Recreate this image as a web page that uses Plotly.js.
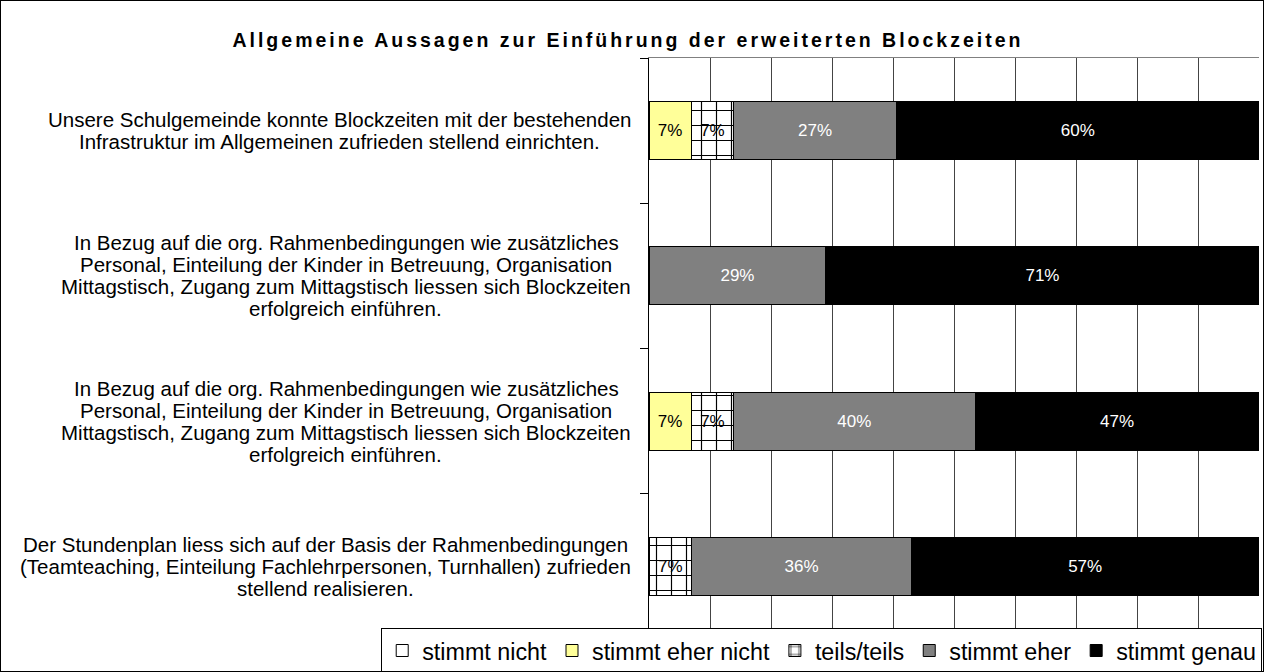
<!DOCTYPE html>
<html>
<head>
<meta charset="utf-8">
<script src="https://cdn.plot.ly/plotly-3.0.1.min.js"></script>
<style>
  html, body { margin: 0; padding: 0; background: #fff; }
  #chart { width: 1264px; height: 672px; box-sizing: border-box; border: 1px solid #000; }
  .gtitle { letter-spacing: 3px; }
</style>
</head>
<body>
<div id="chart"></div>
<script>
// ---- data ----
const statements = [
  "Unsere Schulgemeinde konnte Blockzeiten mit der bestehenden\nInfrastruktur im Allgemeinen zufrieden stellend einrichten.",
  "In Bezug auf die org. Rahmenbedingungen wie zusätzliches\nPersonal, Einteilung der Kinder in Betreuung, Organisation\nMittagstisch, Zugang zum Mittagstisch liessen sich Blockzeiten\nerfolgreich einführen.",
  "In Bezug auf die org. Rahmenbedingungen wie zusätzliches\nPersonal, Einteilung der Kinder in Betreuung, Organisation\nMittagstisch, Zugang zum Mittagstisch liessen sich Blockzeiten\nerfolgreich einführen.",
  "Der Stundenplan liess sich auf der Basis der Rahmenbedingungen\n(Teamteaching, Einteilung Fachlehrpersonen, Turnhallen) zufrieden\nstellend realisieren."
];
const seriesNames = ["stimmt nicht", "stimmt eher nicht", "teils/teils", "stimmt eher", "stimmt genau"];
const stimmtNicht     = [0, 0, 0, 0];
const stimmtEherNicht = [7, 0, 7, 0];
const teilsTeils      = [7, 0, 7, 7];
const stimmtEher      = [27, 29, 40, 36];
const stimmtGenau     = [60, 71, 47, 57];
const chartTitle = "Allgemeine Aussagen zur Einführung der erweiterten Blockzeiten";

// ---- styles ----
const seriesValues = [stimmtNicht, stimmtEherNicht, teilsTeils, stimmtEher, stimmtGenau];
const fills = ["#FFFFFF", "#FFFF99", "#FFFFFF", "#808080", "#000000"];
const textColors = ["#000", "#000", "#000", "#FFF", "#FFF"];
const FONT = "Liberation Sans, Arial, sans-serif";
const LABEL_SIZE = 20.5;
const LINE_H = 22;
const yIdx = statements.map((_, i) => i);

const traces = seriesValues.map((vals, k) => {
  const t = {
    type: "bar",
    orientation: "h",
    name: seriesNames[k],
    y: yIdx,
    x: vals,
    text: vals.map(v => v > 0 ? v + "%" : ""),
    textposition: "inside",
    insidetextanchor: "middle",
    textangle: 0,
    textfont: { family: FONT, size: 17, color: textColors[k] },
    hoverinfo: "skip",
    marker: { color: fills[k], line: { color: "#000", width: 1 } }
  };
  if (k === 2) {
    t.marker.pattern = { shape: "+", fgcolor: "#000", bgcolor: "#FFF", size: 15, solidity: 0.15 };
  }
  return t;
});

// category labels: one annotation per line, centred on the category
const annotations = [];
statements.forEach((s, i) => {
  const lines = s.split("\n");
  lines.forEach((ln, j) => {
    annotations.push({
      xref: "paper", yref: "y",
      x: 0, y: i,
      xshift: -16,
      yshift: ((lines.length - 1) / 2 - j) * LINE_H,
      xanchor: "right", yanchor: "middle",
      align: "center",
      text: ln,
      showarrow: false,
      font: { family: FONT, size: LABEL_SIZE, color: "#000" }
    });
  });
});

const layout = {
  width: 1262, height: 670,
  paper_bgcolor: "#fff", plot_bgcolor: "#fff",
  margin: { l: 648, r: 4, t: 57, b: 32, pad: 0, autoexpand: false },
  barmode: "stack",
  barnorm: "percent",
  bargap: 0.6,
  showlegend: true,
  title: {
    text: "<b>" + chartTitle + "</b>",
    font: { family: FONT, size: 19.5, color: "#000" },
    x: 0.4968, xanchor: "center",
    yref: "container", y: 0.942, yanchor: "middle"
  },
  xaxis: {
    range: [0, 100], dtick: 10, tick0: 0,
    showgrid: true, gridcolor: "#444", gridwidth: 1,
    showticklabels: false, ticks: "",
    zeroline: false,
    showline: true, linecolor: "#808080", linewidth: 1, mirror: true,
    fixedrange: true
  },
  yaxis: {
    range: [3.5, -0.5],
    tickmode: "array",
    tickvals: [-0.5, 0.5, 1.5, 2.5, 3.5],
    ticktext: ["", "", "", "", ""],
    ticks: "outside", ticklen: 8, tickcolor: "#000",
    showgrid: false, zeroline: false,
    showline: true, linecolor: "#000", linewidth: 1,
    fixedrange: true
  },
  legend: {
    orientation: "h",
    x: -0.439, xanchor: "left",
    y: -0.06, yanchor: "bottom",
    bgcolor: "#fff", bordercolor: "#000", borderwidth: 1,
    font: { family: FONT, size: 23.3, color: "#000" },
    traceorder: "normal",
    itemclick: false, itemdoubleclick: false
  },
  annotations: annotations
};

Plotly.newPlot("chart", traces, layout, { displayModeBar: false, staticPlot: true }).then(gd => {
  // centre lines of each label block on the widest line (right edge shared)
  const nodes = gd.querySelectorAll(".annotation");
  let idx = 0;
  const updates = {};
  statements.forEach((s) => {
    const n = s.split("\n").length;
    const widths = [];
    for (let j = 0; j < n; j++) {
      widths.push(nodes[idx + j].querySelector(".annotation-text").getBBox().width);
    }
    const maxW = Math.max(...widths);
    for (let j = 0; j < n; j++) {
      updates["annotations[" + (idx + j) + "].xshift"] = -16 - (maxW - widths[j]) / 2;
    }
    idx += n;
  });
  return Plotly.relayout(gd, updates);
});
</script>
</body>
</html>
